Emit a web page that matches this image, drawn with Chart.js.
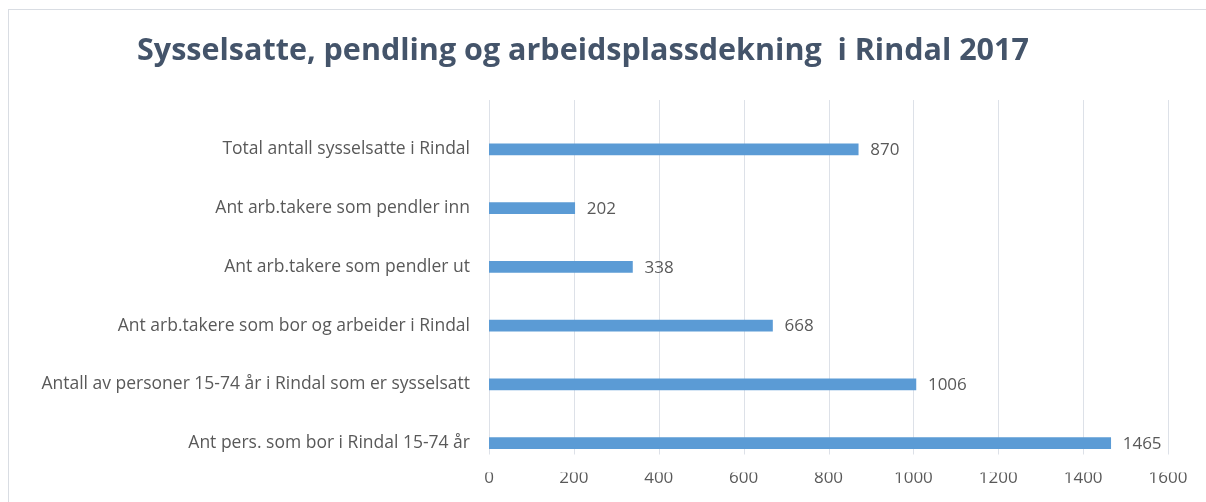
<!DOCTYPE html>
<html>
<head>
<meta charset="utf-8">
<script src="https://cdn.jsdelivr.net/npm/chart.js@4"></script>
<style>
  html, body { margin: 0; padding: 0; width: 1206px; height: 502px; overflow: hidden; background: #fff; }
  #frame { position: absolute; left: 8px; top: 9px; width: 1300px; height: 600px; border: 1px solid #d9dde3; box-sizing: border-box; }
  #wrap { position: absolute; left: -2px; top: 0; width: 1208px; height: 502px; }
</style>
</head>
<body>
<div id="frame"></div>
<div id="wrap"><canvas id="c"></canvas></div>
<script>
const titleText = 'Sysselsatte, pendling og arbeidsplassdekning  i Rindal 2017';
const categories = [
  'Total antall sysselsatte i Rindal',
  'Ant arb.takere som pendler inn',
  'Ant arb.takere som pendler ut',
  'Ant arb.takere som bor og arbeider i Rindal',
  'Antall av personer 15-74 år i Rindal som er sysselsatt',
  'Ant pers. som bor i Rindal 15-74 år'
];
const values = [870, 202, 338, 668, 1006, 1465];
const xMin = 0, xMax = 1600, xStep = 200;

const textColor = '#595959';
const fontFam = '"Open Sans", Roboto, sans-serif';

const gridPlugin = {
  id: 'customGrid',
  beforeDatasetsDraw(chart) {
    const { ctx, chartArea, scales } = chart;
    const x = scales.x;
    ctx.save();
    ctx.strokeStyle = '#dde1e8';
    ctx.lineWidth = 1;
    x.ticks.forEach(t => {
      const px = Math.round(x.getPixelForValue(t.value)) + 0.5;
      ctx.beginPath();
      ctx.moveTo(px, chartArea.top - 20);
      ctx.lineTo(px, chartArea.bottom - 18);
      ctx.stroke();
    });
    ctx.restore();
  }
};

const labelPlugin = {
  id: 'valueLabels',
  afterDatasetsDraw(chart) {
    const { ctx } = chart;
    const meta = chart.getDatasetMeta(0);
    ctx.save();
    ctx.fillStyle = textColor;
    ctx.font = '17px ' + fontFam;
    ctx.textAlign = 'left';
    ctx.textBaseline = 'middle';
    meta.data.forEach((bar, i) => {
      ctx.fillText(String(values[i]), bar.x + 12, bar.y + 1);
    });
    ctx.restore();
  }
};

new Chart(document.getElementById('c'), {
  type: 'bar',
  data: {
    labels: categories,
    datasets: [{
      data: values,
      backgroundColor: '#5b9bd5',
      borderWidth: 0,
      barThickness: 11
    }]
  },
  options: {
    indexAxis: 'y',
    responsive: true,
    maintainAspectRatio: false,
    animation: false,
    layout: { padding: { left: 0, right: 38, top: 0, bottom: 0 } },
    plugins: {
      legend: { display: false },
      tooltip: { enabled: false },
      title: {
        display: true,
        text: titleText,
        color: '#44546a',
        font: { family: '"Open Sans", sans-serif', size: 30.5, weight: 'bold' },
        padding: { top: 33, bottom: 50.4 }
      }
    },
    scales: {
      x: {
        min: xMin, max: xMax,
        grid: { display: false, drawTicks: false },
        border: { display: false },
        ticks: {
          stepSize: xStep,
          color: textColor,
          font: { family: fontFam, size: 17 },
          padding: -5,
          callback: v => String(v)
        },
        afterFit(scale) { scale.height = 26.5; }
      },
      y: {
        grid: { display: false, drawTicks: false },
        border: { display: false },
        ticks: {
          color: textColor,
          font: { family: fontFam, size: 17.5 },
          padding: 19
        },
        afterFit(scale) { scale.width = 491; }
      }
    }
  },
  plugins: [gridPlugin, labelPlugin]
});
</script>
</body>
</html>
